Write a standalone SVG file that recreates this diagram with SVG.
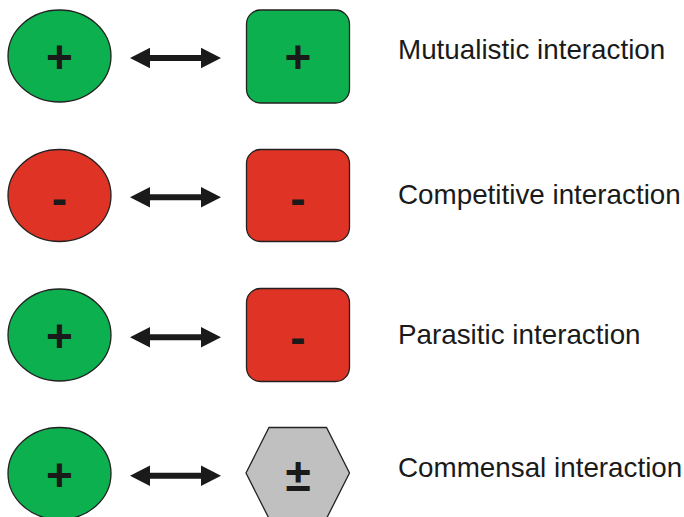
<svg xmlns="http://www.w3.org/2000/svg" width="684" height="517" viewBox="0 0 684 517">
<defs>
<style>
.shape{stroke:#222;stroke-width:1.3}
.green{fill:#0cb04f}
.red{fill:#df3326}
.gray{fill:#c0c0c0}
.sym{font-family:"Liberation Sans",Arial,sans-serif;font-size:46px;font-weight:bold;fill:#1a1a1a;text-anchor:middle}
.label{font-family:"Liberation Sans",Arial,sans-serif;font-size:27.8px;fill:#1a1a1a}
.arrow{fill:#1a1a1a}
</style>
</defs>
<rect width="684" height="517" fill="#fff"/>
<g id="row1-left"><ellipse class="shape green" cx="59.5" cy="56" rx="51.5" ry="46"/><text class="sym" x="59.5" y="73">+</text></g>
<g id="row1-right"><rect class="shape green" x="246.5" y="10" width="103" height="93" rx="14"/><text class="sym" x="298" y="73">+</text></g>
<g id="row2-left"><ellipse class="shape red" cx="59.5" cy="195.5" rx="51.5" ry="46"/><text class="sym" x="59.5" y="214">-</text></g>
<g id="row2-right"><rect class="shape red" x="246.5" y="149.5" width="103" height="92" rx="14"/><text class="sym" x="298" y="213.5">-</text></g>
<g id="row3-left"><ellipse class="shape green" cx="59.5" cy="335" rx="51.5" ry="46"/><text class="sym" x="59.5" y="352">+</text></g>
<g id="row3-right"><rect class="shape red" x="246.5" y="288.5" width="103" height="93" rx="14"/><text class="sym" x="298" y="352.5">-</text></g>
<g id="row4-left"><ellipse class="shape green" cx="59.5" cy="473.5" rx="51.5" ry="46"/><text class="sym" x="59.5" y="491">+</text></g>
<g id="row4-right"><polygon class="shape gray" points="246,473 269,427.5 326.5,427.5 349.5,473 326.5,518.5 269,518.5"/><text class="sym" x="298" y="491">±</text></g>
<g id="connectors">
<polygon class="arrow" points="130,58 150,47.7 150,55 201,55 201,47.7 221,58 201,68.3 201,61 150,61 150,68.3"/>
<polygon class="arrow" points="130,197.3 150,187 150,194.3 201,194.3 201,187 221,197.3 201,207.6 201,200.3 150,200.3 150,207.6"/>
<polygon class="arrow" points="130,337.3 150,327 150,334.3 201,334.3 201,327 221,337.3 201,347.6 201,340.3 150,340.3 150,347.6"/>
<polygon class="arrow" points="130,475.7 150,465.4 150,472.7 201,472.7 201,465.4 221,475.7 201,486 201,478.7 150,478.7 150,486"/>
</g>
<g id="labels">
<text class="label" x="398" y="59">Mutualistic interaction</text>
<text class="label" x="398" y="204">Competitive interaction</text>
<text class="label" x="398" y="344">Parasitic interaction</text>
<text class="label" x="398" y="477">Commensal interaction</text>
</g>
</svg>
